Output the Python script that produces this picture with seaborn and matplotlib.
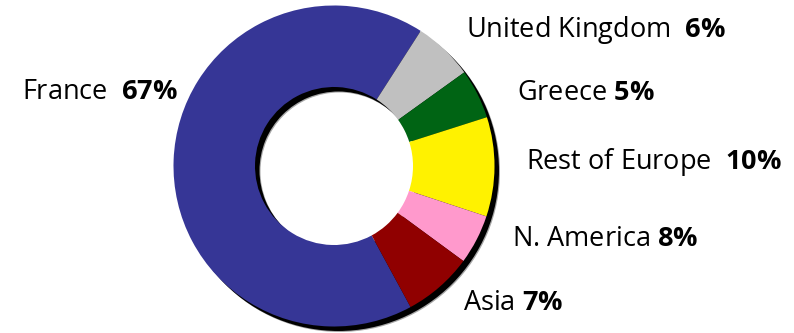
import matplotlib
matplotlib.use("Agg")
import matplotlib.pyplot as plt
import seaborn as sns

sns.set_theme(style="white")
plt.rcParams['font.family'] = ['Open Sans', 'DejaVu Sans']
plt.rcParams['mathtext.fontset'] = 'custom'
plt.rcParams['mathtext.rm'] = 'Open Sans'
plt.rcParams['mathtext.bf'] = 'Open Sans:bold'

# Data
regions = ["France", "United Kingdom", "Greece", "Rest of Europe", "N. America", "Asia"]
shares = [67, 6, 5, 10, 5, 7]          # slice sizes as drawn
pct_labels = ["67%", "6%", "5%", "10%", "8%", "7%"]   # printed labels
seps = ["  ", "  ", " ", "  ", " ", " "]
colors = ["#363696", "#C0C0C0", "#006414", "#FFF200", "#FF99CC", "#900000"]

W, H = 794, 333
fig = plt.figure(figsize=(W / 100, H / 100), dpi=100)
fig.patch.set_facecolor("white")

R_px = 160.5
cx, cy = 334, 166
ax = fig.add_axes([(cx - R_px) / W, (H - cy - R_px) / H, 2 * R_px / W, 2 * R_px / H])
ax.set_xlim(-1, 1)
ax.set_ylim(-1, 1)
ax.axis("off")

start = 298.5
ring_w = 1 - 79 / R_px
off = 4.5 / R_px

# shadow
for d, a in [(off + 1 / R_px, 0.35), (off, 1.0)]:
    ws, _ = ax.pie([sum(shares)], colors=["black"], radius=1, center=(d, -d),
                   wedgeprops=dict(width=ring_w, linewidth=0, alpha=a), frame=False)
    for w in ws:
        w.set_clip_on(False)

wedges, _ = ax.pie(shares, colors=colors, radius=1, startangle=start, counterclock=False,
                   wedgeprops=dict(width=ring_w, linewidth=0), frame=False)
for w in wedges:
    w.set_clip_on(False)
ax.set_xlim(-1, 1)
ax.set_ylim(-1, 1)

# label positions (figure px): (x, y center, ha)
label_pos = [(178, 92, "right"), (466, 30, "left"), (517, 93, "left"),
             (526, 162, "left"), (512, 239, "left"), (463, 303, "left")]
for name, pct, sep, (x, y, ha) in zip(regions, pct_labels, seps, label_pos):
    txt = name + sep + r"$\mathbf{" + pct.replace("%", r"\%") + "}$"
    fig.text(x / W, 1 - y / H, txt, ha=ha, va="center", fontsize=19.5, color="black")

fig.savefig("out.png", dpi=100)
